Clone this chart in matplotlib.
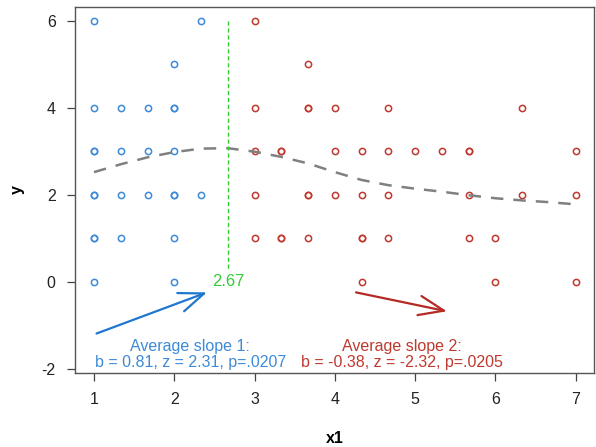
import matplotlib
matplotlib.use('Agg')
import matplotlib.pyplot as plt

plt.rcParams['font.family'] = ['Liberation Sans', 'DejaVu Sans']
plt.rcParams['axes.unicode_minus'] = False

# group 1 (x1 below the breakpoint)
x_blue = [1, 2.333, 2, 1, 1.333, 1.667, 2, 2, 1, 1, 1.333, 1.667, 2, 1,
          1, 1.333, 1.667, 2, 2, 2.333, 1, 1, 1.333, 2, 1, 2]
y_blue = [6, 6, 5, 4, 4, 4, 4, 4, 3, 3, 3, 3, 3, 2,
          2, 2, 2, 2, 2, 2, 1, 1, 1, 1, 0, 0]

# group 2 (x1 above the breakpoint)
x_red = [3, 3.667, 3, 3.667, 3.667, 4, 4.667, 6.333,
         3, 3.333, 3.333, 4, 4.333, 4.667, 5, 5.333, 5.667, 5.667, 7,
         3, 3.667, 3.667, 4, 4.333, 4.667, 5.667, 6.333, 7,
         3, 3.333, 3.333, 3.667, 4.333, 4.333, 4.667, 5.667, 6,
         4.333, 6, 7]
y_red = [6, 5, 4, 4, 4, 4, 4, 4,
         3, 3, 3, 3, 3, 3, 3, 3, 3, 3, 3,
         2, 2, 2, 2, 2, 2, 2, 2, 2,
         1, 1, 1, 1, 1, 1, 1, 1, 1,
         0, 0, 0]

# smooth fit (dashed)
x_fit = [1, 1.333, 1.667, 2, 2.333, 2.667, 3, 3.333, 3.667, 4, 4.333, 4.667,
         5, 5.333, 5.667, 6, 6.333, 6.667, 7]
y_fit = [2.52, 2.70, 2.86, 2.98, 3.06, 3.07, 2.99, 2.87, 2.72, 2.52, 2.34, 2.22,
         2.14, 2.07, 1.99, 1.92, 1.87, 1.83, 1.78]

breakpoint = 2.67
slope1 = "Average slope 1:\nb = 0.81, z = 2.31, p=.0207"
slope2 = "Average slope 2:\nb = -0.38, z = -2.32, p=.0205"

blue = '#3d8ad8'
red = '#c0392f'
green = '#33cc33'

fig = plt.figure(figsize=(5.96, 4.47), dpi=100)
ax = fig.add_axes([0.126, 0.166, 0.871, 0.818])

ax.plot(x_blue, y_blue, 'o', mfc='none', mec=blue, ms=4.5, mew=1.1)
ax.plot(x_red, y_red, 'o', mfc='none', mec=red, ms=4.5, mew=1.1)
ax.plot(x_fit, y_fit, color='#808080', lw=1.8, dashes=(5, 4))

ax.plot([breakpoint, breakpoint], [6, 0.3], color=green, lw=1, dashes=(3, 2))
ax.text(breakpoint, 0, '%.2f' % breakpoint, color=green, ha='center', va='center', fontsize=12)

ax.annotate('', xy=(2.44, -0.22), xytext=(1.0, -1.21),
            arrowprops=dict(arrowstyle='->,head_length=1.8,head_width=0.7', color='#1f78d0', lw=1.6))
ax.annotate('', xy=(5.43, -0.69), xytext=(4.23, -0.23),
            arrowprops=dict(arrowstyle='->,head_length=1.8,head_width=0.7', color='#b52a25', lw=1.6))

ax.text(2.2, -1.67, slope1, color=blue, ha='center', va='center', fontsize=11.5, linespacing=1.1)
ax.text(4.84, -1.67, slope2, color=red, ha='center', va='center', fontsize=11.5, linespacing=1.1)

ax.set_xlim(0.765, 7.23)
ax.set_ylim(-2.09, 6.31)
ax.set_xticks(range(1, 8))
ax.set_yticks([-2, 0, 2, 4, 6])
ax.tick_params(direction='out', length=6, width=0.9, color='#444444', labelcolor='#222222',
               labelsize=11.5, pad=8)
for s in ax.spines.values():
    s.set_color('#555555')
    s.set_linewidth(1.0)

ax.set_xlabel('x1', fontweight='bold', fontsize=11.5, labelpad=17)
ax.set_ylabel('y', fontweight='bold', fontsize=11.5, labelpad=12)

fig.savefig('out.png', dpi=100)
